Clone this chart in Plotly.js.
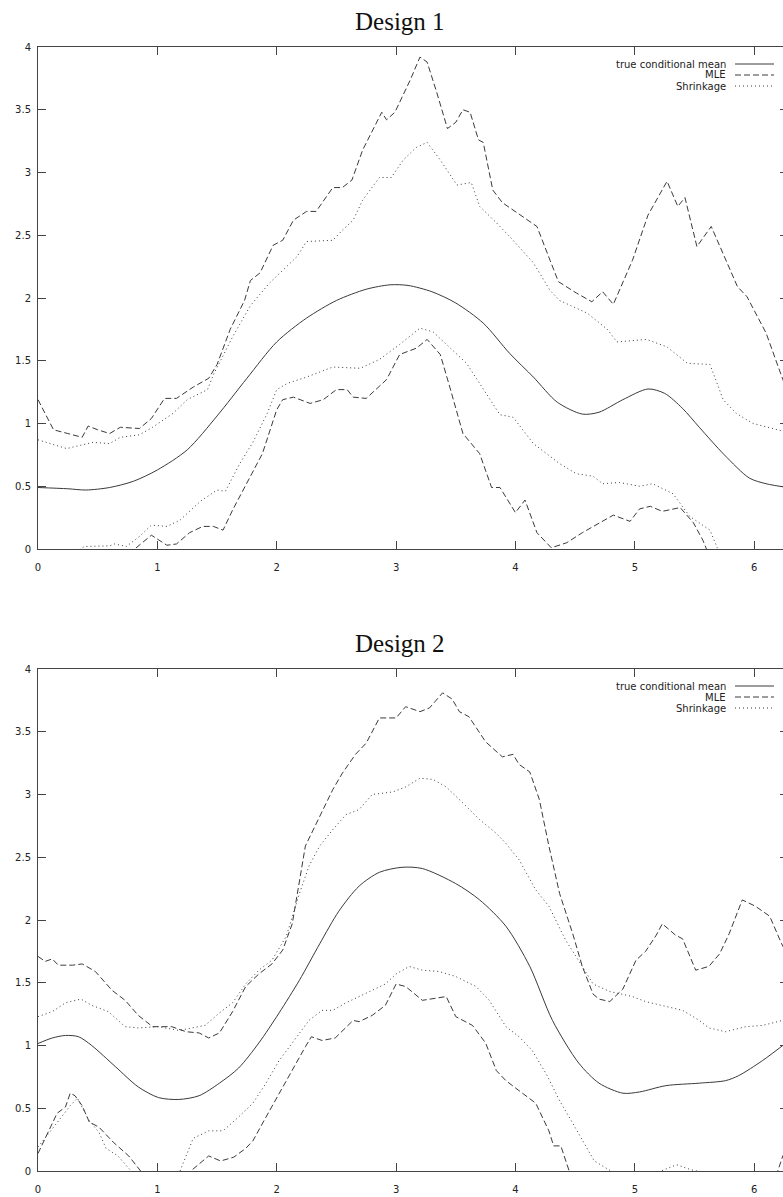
<!DOCTYPE html>
<html><head><meta charset="utf-8">
<script src="https://cdn.plot.ly/plotly-3.0.1.min.js"></script>
<style>html,body{margin:0;padding:0;background:#fff;overflow:hidden}#chart{width:788px;height:1197px}</style>
</head><body><div id="chart"></div>
<script>
// ---------- Design 1 ----------
const d1TrueX = [0,0.25,0.4,0.6,0.8,1.0,1.25,1.5,1.75,2.0,2.25,2.5,2.75,2.95,3.1,3.3,3.5,3.73,3.95,4.15,4.35,4.56,4.7,4.9,5.11,5.25,5.4,5.54,5.75,5.96,6.1,6.28];
const d1TrueY = [0.49,0.48,0.47,0.49,0.54,0.63,0.79,1.06,1.36,1.65,1.84,1.98,2.07,2.105,2.10,2.05,1.96,1.80,1.56,1.37,1.17,1.075,1.09,1.19,1.275,1.24,1.12,0.97,0.75,0.565,0.52,0.49];

const d1MleUpX = [0,0.13,0.25,0.37,0.42,0.5,0.6,0.69,0.85,0.95,1.06,1.16,1.30,1.43,1.5,1.61,1.73,1.78,1.86,1.97,2.05,2.14,2.25,2.33,2.47,2.55,2.63,2.72,2.88,2.92,2.99,3.12,3.2,3.26,3.34,3.43,3.5,3.56,3.62,3.69,3.73,3.81,3.89,4.01,4.12,4.18,4.29,4.36,4.51,4.64,4.73,4.82,4.98,5.11,5.27,5.36,5.42,5.52,5.64,5.75,5.86,5.94,6.10,6.24,6.28];
const d1MleUpY = [1.19,0.95,0.92,0.89,0.98,0.95,0.92,0.97,0.96,1.04,1.2,1.2,1.29,1.36,1.47,1.75,1.98,2.14,2.2,2.42,2.46,2.62,2.69,2.69,2.88,2.88,2.94,3.18,3.48,3.42,3.48,3.74,3.92,3.88,3.64,3.35,3.4,3.5,3.48,3.26,3.24,2.86,2.76,2.68,2.61,2.57,2.30,2.13,2.04,1.97,2.05,1.95,2.30,2.66,2.93,2.73,2.80,2.41,2.57,2.33,2.09,2.01,1.72,1.35,1.25];

const d1ShrUpX = [0,0.24,0.46,0.60,0.69,0.85,0.96,1.13,1.25,1.42,1.47,1.63,1.78,1.94,2.17,2.25,2.47,2.55,2.64,2.72,2.86,2.96,3.06,3.17,3.26,3.37,3.51,3.63,3.70,3.84,3.98,4.15,4.29,4.37,4.60,4.77,4.85,5.10,5.27,5.44,5.63,5.74,5.85,5.99,6.28];
const d1ShrUpY = [0.87,0.80,0.85,0.84,0.89,0.91,0.97,1.08,1.19,1.27,1.39,1.69,1.94,2.12,2.33,2.45,2.46,2.54,2.62,2.78,2.96,2.96,3.10,3.20,3.24,3.10,2.90,2.92,2.73,2.60,2.46,2.28,2.06,1.98,1.88,1.75,1.65,1.67,1.61,1.48,1.47,1.19,1.08,1.00,0.93];

const d1ShrLoX = [0,0.3,0.39,0.6,0.64,0.74,0.85,0.95,1.08,1.19,1.36,1.5,1.57,1.69,1.80,1.92,2.0,2.09,2.25,2.47,2.70,2.86,3.03,3.2,3.31,3.59,3.87,3.98,4.15,4.37,4.51,4.65,4.73,4.87,5.04,5.15,5.32,5.46,5.63,5.69,5.8,6.28];
const d1ShrLoY = [-0.2,-0.03,0.02,0.025,0.04,0.02,0.1,0.19,0.18,0.23,0.38,0.47,0.46,0.68,0.85,1.08,1.27,1.32,1.37,1.45,1.44,1.51,1.63,1.76,1.73,1.48,1.07,1.05,0.84,0.68,0.6,0.58,0.52,0.53,0.5,0.52,0.44,0.26,0.15,0.01,-0.2,-0.5];

const d1MleLoX = [0,0.5,0.7,0.81,0.95,1.08,1.16,1.27,1.38,1.47,1.55,1.63,1.75,1.88,2.0,2.05,2.14,2.28,2.39,2.50,2.59,2.64,2.75,2.92,3.03,3.17,3.26,3.37,3.45,3.56,3.7,3.80,3.87,4.0,4.08,4.18,4.3,4.43,4.56,4.71,4.82,4.96,5.04,5.13,5.23,5.38,5.49,5.57,5.60,5.7,6.28];
const d1MleLoY = [-0.5,-0.2,-0.08,0.0,0.11,0.03,0.04,0.13,0.18,0.18,0.15,0.31,0.52,0.76,1.11,1.19,1.21,1.16,1.19,1.27,1.27,1.21,1.2,1.35,1.55,1.6,1.67,1.55,1.29,0.92,0.76,0.49,0.49,0.29,0.39,0.13,0.01,0.05,0.13,0.21,0.27,0.22,0.32,0.34,0.3,0.33,0.21,0.07,0.0,-0.3,-1.0];

// ---------- Design 2 ----------
const d2TrueX = [0,0.12,0.23,0.34,0.45,0.65,0.84,1.01,1.18,1.35,1.52,1.68,1.85,2.02,2.19,2.36,2.52,2.69,2.86,3.05,3.22,3.5,3.70,3.92,4.12,4.31,4.53,4.70,4.90,5.04,5.26,5.54,5.76,5.87,6.07,6.28];
const d2TrueY = [1.016,1.06,1.08,1.07,1.0,0.83,0.67,0.585,0.57,0.60,0.70,0.82,1.02,1.26,1.52,1.81,2.07,2.27,2.38,2.42,2.41,2.29,2.16,1.95,1.63,1.2,0.86,0.70,0.62,0.63,0.68,0.70,0.72,0.76,0.88,1.03];

const d2MleUpX = [0,0.06,0.12,0.17,0.29,0.37,0.48,0.62,0.73,0.84,0.96,1.12,1.24,1.35,1.43,1.52,1.63,1.74,1.85,1.96,2.05,2.13,2.24,2.33,2.47,2.55,2.66,2.75,2.86,3.0,3.08,3.2,3.28,3.39,3.47,3.53,3.61,3.75,3.89,3.98,4.03,4.12,4.2,4.28,4.37,4.48,4.56,4.65,4.70,4.79,4.90,5.01,5.09,5.18,5.23,5.34,5.40,5.51,5.62,5.71,5.79,5.90,6.01,6.13,6.23,6.28];
const d2MleUpY = [1.71,1.67,1.69,1.64,1.64,1.65,1.59,1.44,1.36,1.24,1.15,1.15,1.11,1.10,1.06,1.10,1.27,1.47,1.57,1.65,1.76,1.97,2.59,2.77,3.04,3.17,3.32,3.41,3.61,3.61,3.70,3.66,3.69,3.81,3.76,3.66,3.62,3.42,3.30,3.32,3.24,3.18,2.96,2.59,2.21,1.89,1.63,1.41,1.37,1.35,1.45,1.68,1.75,1.88,1.97,1.88,1.85,1.60,1.63,1.73,1.89,2.16,2.11,2.03,1.81,1.72];

const d2ShrUpX = [0,0.12,0.23,0.36,0.45,0.59,0.73,0.84,1.01,1.18,1.29,1.40,1.52,1.63,1.74,1.85,1.96,2.08,2.19,2.27,2.36,2.47,2.58,2.69,2.80,2.91,2.97,3.08,3.20,3.31,3.42,3.53,3.70,3.84,3.92,4.03,4.17,4.28,4.42,4.56,4.65,4.79,4.98,5.09,5.26,5.40,5.54,5.62,5.76,5.93,6.07,6.28];
const d2ShrUpY = [1.23,1.27,1.34,1.37,1.32,1.27,1.15,1.14,1.15,1.12,1.14,1.16,1.26,1.34,1.49,1.60,1.68,1.87,2.21,2.43,2.59,2.72,2.84,2.88,3.0,3.01,3.02,3.06,3.13,3.12,3.06,2.96,2.80,2.69,2.61,2.48,2.24,2.11,1.84,1.63,1.49,1.43,1.39,1.35,1.31,1.28,1.20,1.14,1.11,1.15,1.16,1.21];

const d2ShrLoX = [0,0.09,0.17,0.27,0.33,0.37,0.43,0.51,0.57,0.67,0.78,0.9,1.1,1.19,1.30,1.43,1.55,1.68,1.80,1.91,2.02,2.13,2.27,2.38,2.47,2.58,2.69,2.80,2.91,3.0,3.11,3.22,3.36,3.50,3.67,3.78,3.92,4.03,4.14,4.26,4.37,4.48,4.59,4.66,4.80,4.95,5.15,5.22,5.35,5.47,5.52,5.7,6.0,6.28];
const d2ShrLoY = [0.19,0.30,0.40,0.52,0.58,0.51,0.40,0.31,0.18,0.12,0.0,-0.15,-0.1,0.0,0.26,0.32,0.32,0.43,0.54,0.70,0.88,1.02,1.20,1.28,1.28,1.34,1.39,1.44,1.49,1.57,1.63,1.60,1.59,1.55,1.47,1.36,1.15,1.07,0.96,0.77,0.56,0.38,0.19,0.08,0.0,-0.1,-0.05,0.0,0.05,0.01,0.0,-0.1,-0.1,0.0];

const d2MleLoX = [0,0.09,0.16,0.23,0.27,0.31,0.37,0.43,0.51,0.59,0.63,0.76,0.86,1.0,1.2,1.28,1.43,1.53,1.64,1.74,1.80,1.91,2.02,2.13,2.24,2.29,2.38,2.49,2.58,2.64,2.69,2.80,2.91,3.0,3.08,3.22,3.42,3.50,3.64,3.75,3.84,3.92,4.03,4.17,4.28,4.32,4.38,4.45,4.6,5.5,6.19,6.24,6.28];
const d2MleLoY = [0.14,0.32,0.46,0.51,0.62,0.60,0.52,0.39,0.35,0.27,0.23,0.12,0.0,-0.2,-0.1,0.0,0.12,0.08,0.11,0.18,0.24,0.43,0.62,0.80,0.99,1.07,1.04,1.06,1.14,1.20,1.19,1.24,1.32,1.49,1.47,1.36,1.39,1.23,1.16,1.02,0.80,0.72,0.64,0.54,0.32,0.2,0.2,0.0,-0.3,-0.3,-0.02,0.12,0.2];

const xTicks = [0,1,2,3,4,5,6];
const yTicks = [0,0.5,1,1.5,2,2.5,3,3.5,4];
const yTickText = ['0','0.5','1','1.5','2','2.5','3','3.5','4'];
const titles = ['Design 1','Design 2'];
const legendNames = ['true conditional mean','MLE','Shrinkage'];

const LC = '#3a3a3a';
const solid = {color: LC, width: 1, shape: 'spline', smoothing: 0.8};
const dash = {color: LC, width: 1, dash: '6px,3px'};
const dot = {color: LC, width: 1, dash: '1px,3px'};

function tr(x, y, line, ax) {
  return {x: x, y: y, mode: 'lines', line: line, xaxis: ax[0], yaxis: ax[1], showlegend: false, hoverinfo: 'skip'};
}
const A1 = ['x','y'], A2 = ['x2','y2'];
const data = [
  tr(d1TrueX, d1TrueY, solid, A1),
  tr(d1MleUpX, d1MleUpY, dash, A1),
  tr(d1MleLoX, d1MleLoY, dash, A1),
  tr(d1ShrUpX, d1ShrUpY, dot, A1),
  tr(d1ShrLoX, d1ShrLoY, dot, A1),
  tr(d2TrueX, d2TrueY, solid, A2),
  tr(d2MleUpX, d2MleUpY, dash, A2),
  tr(d2MleLoX, d2MleLoY, dash, A2),
  tr(d2ShrUpX, d2ShrUpY, dot, A2),
  tr(d2ShrLoX, d2ShrLoY, dot, A2)
];

const H = 1197, ML = 38, PXU = 119.4, XMAX = 2*Math.PI;
const W = Math.round(ML + XMAX*PXU);
const PW = W - ML;
const tickFont = {family: 'DejaVu Sans', size: 10, color: '#222'};
function xax(anchor) {
  return {anchor: anchor, domain: [0,1], range: [0, XMAX], tickvals: xTicks, ticktext: xTicks.map(String),
    ticks: 'inside', ticklen: 8, tickwidth: 1, tickcolor: '#444', showline: true, linecolor: '#444', linewidth: 1,
    mirror: 'ticks', showgrid: false, zeroline: false, tickfont: tickFont, ticklabelstandoff: 9};
}
function yax(anchor, top, bot) {
  return {anchor: anchor, domain: [1-bot/H, 1-top/H], range: [0,4], tickvals: yTicks, ticktext: yTickText,
    ticks: 'inside', ticklen: 8, tickwidth: 1, tickcolor: '#444', showline: true, linecolor: '#444', linewidth: 1,
    mirror: 'ticks', showgrid: false, zeroline: false, tickfont: tickFont, ticklabelstandoff: 4};
}

const OFF = 622;
const offsets = [0, OFF];
const annotations = [], shapes = [];
const styles = [solid, dash, dot];
offsets.forEach((off, i) => {
  annotations.push({text: titles[i], xref: 'paper', yref: 'paper', x: (400-ML)/PW, y: 1-(21+off)/H,
    xanchor: 'center', yanchor: 'middle', showarrow: false,
    font: {family: 'Liberation Serif', size: 25, color: '#111'}});
  legendNames.forEach((nm, j) => {
    const py = 64 + 11*j + off;
    annotations.push({text: nm, xref: 'paper', yref: 'paper', x: (728-ML)/PW, y: 1-py/H,
      xanchor: 'right', yanchor: 'middle', showarrow: false,
      font: {family: 'DejaVu Sans', size: 10, color: '#222'}});
    shapes.push({type: 'line', xref: 'paper', yref: 'paper', x0: (735-ML)/PW, x1: (774-ML)/PW,
      y0: 1-py/H, y1: 1-py/H, line: {color: LC, width: 1, dash: styles[j].dash || 'solid'}});
  });
});

const layout = {
  width: W, height: H, margin: {l: ML, r: 0, t: 0, b: 0},
  paper_bgcolor: '#fff', plot_bgcolor: '#fff', showlegend: false,
  xaxis: xax('y'), yaxis: yax('x', 47, 549),
  xaxis2: xax('y2'), yaxis2: yax('x2', 47+OFF, 549+OFF),
  annotations: annotations, shapes: shapes
};
Plotly.newPlot('chart', data, layout, {staticPlot: true, displayModeBar: false});
</script></body></html>
